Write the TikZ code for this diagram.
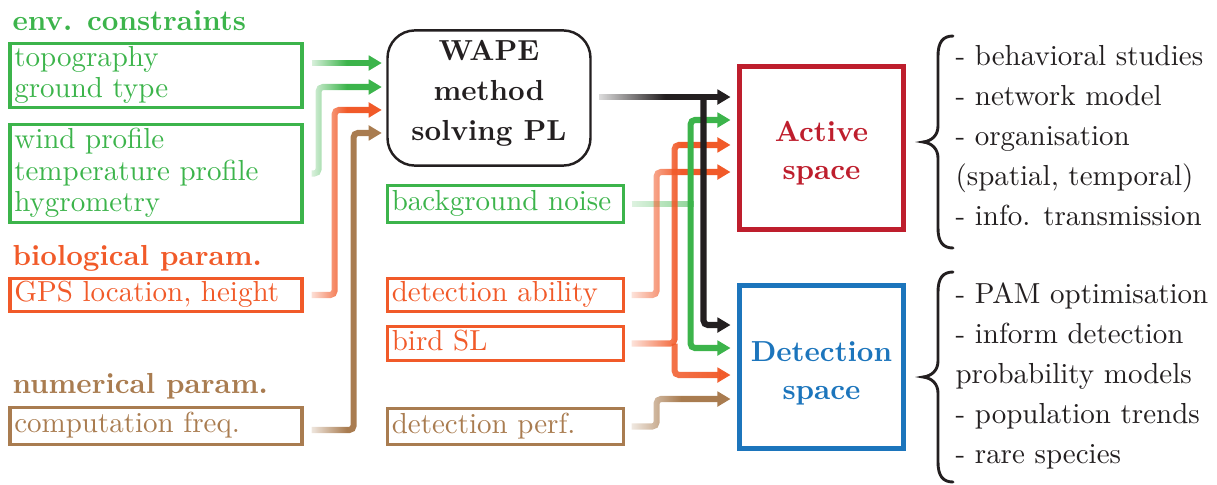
\documentclass[tikz,border=0pt]{standalone}
\usetikzlibrary{arrows.meta,fadings,calc}
\definecolor{cgreen}{RGB}{60,180,75}
\definecolor{corange}{RGB}{241,90,41}
\definecolor{cbrown}{RGB}{169,124,80}
\definecolor{cred}{RGB}{190,30,45}
\definecolor{cblue}{RGB}{28,117,188}
\definecolor{cblack}{RGB}{35,31,32}
\def\pxu{0.345pt}
\newcommand\bxstrut{\rule[-2.5pt]{0pt}{8.1pt}}
\tikzfading[name=arrfade, left color=transparent!88, right color=transparent!0, middle color=transparent!0]
\tikzfading[name=bgfade, left color=transparent!85, right color=transparent!40]
\tikzfading[name=brfade, left color=transparent!15, right color=transparent!0]
\begin{document}
\begin{tikzpicture}[x=0.345pt, y=-0.345pt,
  lbox/.style={draw, line width=1.1pt, inner xsep=1.5pt, inner ysep=0pt, align=left,
    text width={292*\pxu-3pt}, font=\fontsize{10}{11}\selectfont},
  mbox/.style={draw, line width=1.1pt, inner xsep=1.5pt, inner ysep=0pt, align=left,
    text width={236*\pxu-3pt}, font=\fontsize{10}{11}\selectfont},
  head/.style={anchor=base west, inner sep=0pt, font=\bfseries},
  spacebox/.style={draw, line width=1.7pt, minimum width=164*\pxu, minimum height=163*\pxu,
    align=center, font=\bfseries\fontsize{10}{13.1}\selectfont},
  listtxt/.style={anchor=north west, inner sep=0pt, align=left, text=cblack,
    font=\fontsize{10}{13.8}\selectfont},
  bracepath/.style={draw=cblack, line width=1pt, line cap=round},
  conn/.style={line width=2.1pt, rounded corners=1.5pt},
  tip/.style={-{Triangle[length=4.5pt,width=5pt]}},
  fd/.style={path fading=arrfade}
]
\useasboundingbox (0,0) rectangle (1217,484);

% headings
\node[head, text=cgreen] (henv) at (12,30) {env. constraints};
\node[head, text=corange] (hbio) at (12,265) {biological param.};
\node[head, text=cbrown] (hnum) at (12,393) {numerical param.};

% left boxes
\node[lbox, cgreen, minimum height=64*\pxu] (topo) at (156,75.5) {\bxstrut topography\\ground type\bxstrut};
\node[lbox, cgreen, minimum height=98*\pxu] (prof) at (156,173.5) {\bxstrut wind profile\\temperature profile\\hygrometry\bxstrut};
\node[lbox, corange, minimum height=33*\pxu] (gps) at (156,295) {\bxstrut GPS location, height};
\node[lbox, cbrown, minimum height=37*\pxu] (comp) at (156,426) {\bxstrut computation freq.};

% middle boxes
\node[draw=cblack, text=cblack, line width=0.85pt, rounded corners=9.5pt, minimum width=203*\pxu,
  minimum height=123*\pxu, align=center, font=\bfseries\fontsize{10}{13.8}\selectfont]
  (wape) at (489,98) {WAPE\\method\\solving PL\rule[-5.4pt]{0pt}{0pt}};
\node[mbox, cgreen, minimum height=37*\pxu] (bg) at (505.5,204) {\bxstrut background noise};
\node[mbox, corange, minimum height=33*\pxu] (da) at (505.5,295) {\bxstrut detection ability};
\node[mbox, corange, minimum height=34*\pxu] (sl) at (505.5,343.5) {\bxstrut bird SL};
\node[mbox, cbrown, minimum height=36*\pxu] (dp) at (505.5,426.5) {\bxstrut detection perf.};

% right boxes
\node[spacebox, draw=cred, text=cred] (act) at (821.5,148) {\rule{0pt}{10.3pt}Active\\space};
\node[spacebox, draw=cblue, text=cblue] (det) at (821.5,367) {\rule{0pt}{11pt}Detection\\space};

% braces and lists
\draw[bracepath] (953,36) .. controls (943,36) and (938,42) .. (938,56) -- (938,126)
  .. controls (938,135) and (932,141) .. (923,142) .. controls (932,143) and (938,149) .. (938,158)
  -- (938,228) .. controls (938,242) and (943,248) .. (953,248);
\draw[bracepath] (953,272) .. controls (943,272) and (938,278) .. (938,292) -- (938,361)
  .. controls (938,370) and (932,376) .. (923,377) .. controls (932,378) and (938,384) .. (938,393)
  -- (938,462) .. controls (938,476) and (943,482) .. (953,482);
\node[listtxt] (l1) at (955,45) {- behavioral studies\\- network model\\- organisation\\(spatial, temporal)\\- info. transmission};
\node[listtxt] (l2) at (955,282) {- PAM optimisation\\- inform detection\\probability models\\- population trends\\- rare species};

% left connectors
\draw[conn, tip, cgreen, fd] ([shift={(8,-18)}]topo.east) ([shift={(8,-7)}]topo.east)
  ([shift={(8,-12.5)}]topo.east) -- ([shift={(-4.5,-35)}]wape.west);
\draw[conn, tip, cgreen, fd] ([shift={(8,0)}]prof.east) -- ++(7,0) |- ([shift={(-4.5,-11)}]wape.west);
\draw[conn, tip, corange, fd] ([shift={(8,0)}]gps.east) -- ++(23,0) |- ([shift={(-4.5,12)}]wape.west);
\draw[conn, tip, cbrown, fd] ([shift={(8,4)}]comp.east) -- ++(42,0) |- ([shift={(-4.5,35)}]wape.west);

% right connectors
\draw[conn, cgreen, path fading=bgfade] ([shift={(6.5,-6)}]bg.east) ([shift={(6.5,6)}]bg.east)
  ([shift={(6.5,0)}]bg.east) -- ++(62,0);
\draw[conn, tip, corange, fd] ([shift={(6.5,0)}]da.east) -- ++(25,0) |- ([shift={(-6.5,24)}]act.west);
\draw[conn, tip, corange, fd] ([shift={(6.5,0)}]sl.east) -- ++(43,0) |- ([shift={(-6.5,-3)}]act.west);
\draw[conn, tip, corange, path fading=brfade] ([shift={(49.5,0)}]sl.east) |- ([shift={(-6.5,8)}]det.west);
\draw[conn, tip, cbrown, fd] ([shift={(6.5,0)}]dp.east) -- ++(25,0) |- ([shift={(-6.5,32)}]det.west);
\draw[conn, tip, cgreen] ([shift={(65.5,0)}]bg.east) |- ([shift={(-6.5,-28)}]act.west);
\draw[conn, tip, cgreen] ([shift={(65.5,0)}]bg.east) |- ([shift={(-6.5,-19)}]det.west);
\draw[conn, tip, cblack, fd] ([shift={(7.5,-7)}]wape.east) ([shift={(7.5,5)}]wape.east)
  ([shift={(7.5,-1)}]wape.east) -- ([shift={(-6.5,-51)}]act.west);
\draw[conn, tip, cblack] ([shift={(-33.5,-51)}]act.west) |- ([shift={(-6.5,-42)}]det.west);
\end{tikzpicture}
\end{document}
